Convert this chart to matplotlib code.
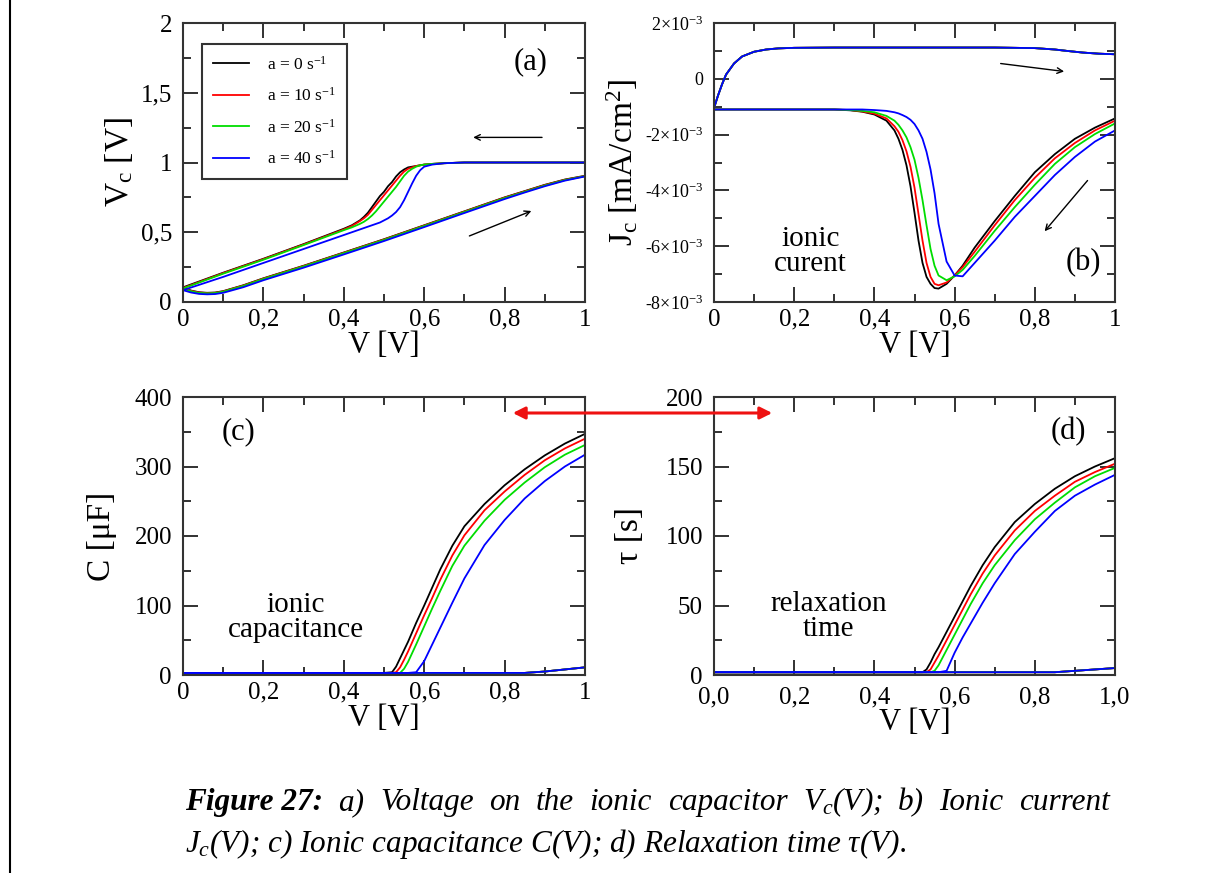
import numpy as np
import matplotlib
matplotlib.use("Agg")
import matplotlib.pyplot as plt
from matplotlib.ticker import MultipleLocator
from matplotlib.lines import Line2D

plt.rcParams['font.family'] = ['Liberation Serif', 'DejaVu Serif']
plt.rcParams['mathtext.fontset'] = 'custom'
plt.rcParams['mathtext.rm'] = 'Liberation Serif'
plt.rcParams['mathtext.it'] = 'Liberation Serif:italic'
plt.rcParams['mathtext.bf'] = 'Liberation Serif:bold'

# series: sweep rate a [1/s]
rates = [0, 10, 20, 40]
colors = ['black', 'red', '#00dd00', 'blue']

# (a) Vc(V), return branch (V going down)
va_up = [1.0, 0.9, 0.8, 0.7, 0.65, 0.62, 0.60, 0.59, 0.58, 0.57, 0.56, 0.55, 0.54, 0.53, 0.52,
         0.51, 0.50, 0.49, 0.48, 0.47, 0.46, 0.45, 0.44, 0.42, 0.40, 0.30, 0.20, 0.10, 0.0]
vc_up_0 = [1.0, 1.0, 1.0, 1.0, 0.995, 0.99, 0.985, 0.98, 0.975, 0.97, 0.965, 0.95, 0.93, 0.90, 0.86,
           0.83, 0.79, 0.76, 0.72, 0.68, 0.64, 0.61, 0.585, 0.55, 0.525, 0.415, 0.31, 0.21, 0.105]
vc_up_10 = [1.0, 1.0, 1.0, 1.0, 0.995, 0.99, 0.985, 0.98, 0.975, 0.965, 0.955, 0.935, 0.905, 0.87, 0.835,
            0.80, 0.765, 0.73, 0.695, 0.66, 0.625, 0.60, 0.58, 0.545, 0.52, 0.412, 0.307, 0.207, 0.10]
vc_up_20 = [1.0, 1.0, 1.0, 1.0, 0.995, 0.99, 0.985, 0.98, 0.97, 0.955, 0.935, 0.905, 0.865, 0.825, 0.79,
            0.755, 0.72, 0.685, 0.65, 0.62, 0.595, 0.575, 0.56, 0.535, 0.515, 0.408, 0.303, 0.203, 0.097]
vc_up_40 = [1.0, 1.0, 1.0, 1.0, 0.995, 0.985, 0.97, 0.945, 0.905, 0.85, 0.79, 0.73, 0.68, 0.645, 0.62,
            0.60, 0.585, 0.57, 0.56, 0.55, 0.54, 0.53, 0.52, 0.50, 0.48, 0.38, 0.28, 0.18, 0.085]
# (a) forward branch (V going up)
va_lo = [0.0, 0.02, 0.04, 0.06, 0.08, 0.10, 0.15, 0.2, 0.3, 0.4, 0.5, 0.6, 0.7, 0.8, 0.85, 0.9, 0.95, 1.0]
vc_lo_0 = [0.105, 0.082, 0.07, 0.066, 0.068, 0.078, 0.12, 0.17, 0.26, 0.355, 0.45, 0.55, 0.65, 0.75, 0.795, 0.84, 0.878, 0.905]
vc_lo_10 = [0.10, 0.08, 0.068, 0.064, 0.066, 0.076, 0.118, 0.168, 0.258, 0.353, 0.448, 0.548, 0.648, 0.748, 0.793, 0.838, 0.876, 0.903]
vc_lo_20 = [0.097, 0.077, 0.065, 0.062, 0.064, 0.074, 0.115, 0.165, 0.255, 0.35, 0.445, 0.545, 0.645, 0.745, 0.79, 0.835, 0.874, 0.902]
vc_lo_40 = [0.085, 0.068, 0.058, 0.055, 0.057, 0.066, 0.106, 0.156, 0.246, 0.341, 0.437, 0.537, 0.638, 0.738, 0.785, 0.83, 0.87, 0.9]

# (b) Jc(V) in 1e-3 mA/cm2, forward branch (same for all rates)
vb_fw = [0.0, 0.01, 0.02, 0.03, 0.05, 0.07, 0.10, 0.13, 0.16, 0.2, 0.3, 0.5, 0.7, 0.8, 0.85, 0.88, 0.92, 0.96, 1.0]
jc_fw = [-1.05, -0.6, -0.2, 0.15, 0.55, 0.8, 0.97, 1.05, 1.09, 1.11, 1.12, 1.12, 1.12, 1.1, 1.05, 1.0, 0.94, 0.9, 0.88]
# (b) return branch
vb_rt = [1.0, 0.95, 0.9, 0.85, 0.8, 0.75, 0.7, 0.65, 0.62, 0.6, 0.58, 0.56, 0.55, 0.54, 0.53, 0.52,
         0.51, 0.50, 0.49, 0.48, 0.47, 0.46, 0.45, 0.43, 0.40, 0.37, 0.34, 0.30, 0.2, 0.1, 0.0]
jc_rt_0 = [-1.42, -1.75, -2.15, -2.7, -3.35, -4.2, -5.1, -6.05, -6.7, -7.05, -7.35, -7.52, -7.5, -7.35, -7.1, -6.6,
           -5.8, -4.8, -3.85, -3.1, -2.55, -2.15, -1.85, -1.5, -1.28, -1.18, -1.13, -1.1, -1.1, -1.1, -1.1]
jc_rt_10 = [-1.5, -1.85, -2.3, -2.85, -3.55, -4.35, -5.25, -6.2, -6.75, -7.05, -7.3, -7.4, -7.35, -7.1, -6.6, -5.8,
            -4.85, -3.9, -3.15, -2.6, -2.2, -1.9, -1.7, -1.42, -1.25, -1.17, -1.12, -1.1, -1.1, -1.1, -1.1]
jc_rt_20 = [-1.6, -1.98, -2.45, -3.05, -3.8, -4.6, -5.45, -6.35, -6.85, -7.08, -7.22, -7.05, -6.7, -6.1, -5.25, -4.35,
            -3.55, -2.9, -2.45, -2.1, -1.85, -1.65, -1.5, -1.33, -1.2, -1.15, -1.12, -1.1, -1.1, -1.1, -1.1]
jc_rt_40 = [-1.85, -2.25, -2.8, -3.45, -4.2, -4.95, -5.8, -6.6, -7.08, -7.05, -6.55, -5.2, -4.1, -3.25, -2.62, -2.15,
            -1.85, -1.62, -1.47, -1.37, -1.3, -1.24, -1.2, -1.15, -1.12, -1.1, -1.1, -1.1, -1.1, -1.1, -1.1]

# (c) C(V) [uF] and (d) tau(V) [s], return branch
vcd = [1.0, 0.95, 0.9, 0.85, 0.8, 0.75, 0.7, 0.67, 0.64, 0.62, 0.6, 0.58, 0.56, 0.55, 0.54, 0.53, 0.52, 0.5, 0.0]
cap_0 = [347, 333, 316, 296, 273, 246, 214, 186, 152, 126, 100, 75, 48, 36, 24, 12, 4, 3, 3]
cap_10 = [340, 326, 309, 288, 264, 237, 201, 172, 137, 111, 86, 60, 34, 22, 11, 4, 3, 3, 3]
cap_20 = [331, 317, 299, 277, 252, 222, 186, 157, 121, 96, 70, 44, 19, 9, 3, 3, 3, 3, 3]
cap_40 = [317, 300, 279, 254, 223, 187, 139, 104, 68, 44, 20, 4, 3, 3, 3, 3, 3, 3, 3]
tau_0 = [156, 150, 143, 134, 123, 110, 92, 79, 64, 53, 42, 31, 20, 15, 9, 4, 2, 2, 2]
tau_10 = [152, 146, 139, 129, 118, 104, 86, 73, 58, 47, 36, 25, 14, 9, 4, 2, 2, 2, 2]
tau_20 = [149, 143, 135, 124, 112, 97, 79, 66, 51, 40, 29, 18, 7, 3, 2, 2, 2, 2, 2]
tau_40 = [144, 137, 129, 118, 103, 87, 66, 52, 37, 27, 16, 3, 2, 2, 2, 2, 2, 2, 2]
# forward branch of (c), (d)
vcd_fw = [0.0, 0.85, 0.9, 0.95, 1.0]
cap_fw = [3, 3, 5, 8, 11]
tau_fw = [2, 2, 3, 4, 5]

xticks = [0, 0.2, 0.4, 0.6, 0.8, 1.0]
xlabels = ['0', '0,2', '0,4', '0,6', '0,8', '1']
xlabels_d = ['0,0', '0,2', '0,4', '0,6', '0,8', '1,0']
yticks_a = [0, 0.5, 1, 1.5, 2]
ylabels_a = ['0', '0,5', '1', '1,5', '2']
yticks_b = [-8e-3, -6e-3, -4e-3, -2e-3, 0, 2e-3]
ylabels_b = ['-8×10$^{-3}$', '-6×10$^{-3}$', '-4×10$^{-3}$', '-2×10$^{-3}$', '0', '2×10$^{-3}$']

W, H = 1215, 873
fig = plt.figure(figsize=(W / 100, H / 100), dpi=100)
fig.patch.set_facecolor('white')

def box(l, t, r, b):
    return [l / W, 1 - b / H, (r - l) / W, (b - t) / H]

axA = fig.add_axes(box(183, 23, 585, 302))
axB = fig.add_axes(box(714, 23, 1115, 302))
axC = fig.add_axes(box(183, 397, 585, 675))
axD = fig.add_axes(box(714, 397, 1115, 675))

def style(ax, xminor, ymajor, yminor, xpad=5):
    ax.set_xlim(0, 1)
    ax.xaxis.set_minor_locator(MultipleLocator(xminor))
    ax.yaxis.set_minor_locator(MultipleLocator(yminor))
    ax.tick_params(which='both', direction='in', top=True, right=True, width=1.3, labelsize=18, color='#222222')
    ax.tick_params(which='major', length=11)
    ax.tick_params(which='minor', length=6)
    ax.tick_params(axis='x', pad=xpad)
    ax.tick_params(axis='y', pad=8)
    for s in ax.spines.values():
        s.set_linewidth(1.5)
        s.set_color('#333333')
    ax.set_xlabel('V [V]', fontsize=22, labelpad=0)

lw = 1.3
up_a = [vc_up_0, vc_up_10, vc_up_20, vc_up_40]
lo_a = [vc_lo_0, vc_lo_10, vc_lo_20, vc_lo_40]
rt_b = [jc_rt_0, jc_rt_10, jc_rt_20, jc_rt_40]
caps = [cap_0, cap_10, cap_20, cap_40]
taus = [tau_0, tau_10, tau_20, tau_40]

for i in range(4):
    axA.plot(va_up, up_a[i], color=colors[i], lw=lw, label='a = %d s$^{-1}$' % rates[i])
    axA.plot(va_lo, lo_a[i], color=colors[i], lw=lw)
    axB.plot(vb_fw, np.array(jc_fw) * 1e-3, color=colors[i], lw=lw)
    axB.plot(vb_rt, np.array(rt_b[i]) * 1e-3, color=colors[i], lw=lw)
    axC.plot(vcd, caps[i], color=colors[i], lw=lw)
    axC.plot(vcd_fw, cap_fw, color=colors[i], lw=lw)
    axD.plot(vcd, taus[i], color=colors[i], lw=lw)
    axD.plot(vcd_fw, tau_fw, color=colors[i], lw=lw)

# panel (a)
style(axA, 0.1, 0.5, 0.25)
axA.set_ylim(0, 2)
axA.set_xticks(xticks, xlabels)
axA.set_yticks(yticks_a, ylabels_a)
axA.set_ylabel('V$_\\mathrm{c}$ [V]', fontsize=24)
axA.yaxis.set_label_coords(-0.12, 0.5)
leg = axA.legend(loc='upper left', bbox_to_anchor=(0.025, 0.955), fontsize=12.5, handlelength=2.1,
                 labelspacing=0.78, borderpad=0.65, handletextpad=1.0, fancybox=False, framealpha=1,
                 edgecolor='#333333')
leg.get_frame().set_linewidth(1.5)
axA.text(0.865, 1.72, '(a)', fontsize=22, ha='center', va='center')
axA.annotate('', xy=(0.715, 1.18), xytext=(0.90, 1.18),
             arrowprops=dict(arrowstyle='->', color='black', lw=1.0))
axA.annotate('', xy=(0.873, 0.66), xytext=(0.706, 0.466),
             arrowprops=dict(arrowstyle='->', color='black', lw=1.0))

# panel (b)
style(axB, 0.1, 2e-3, 1e-3)
axB.set_ylim(-8e-3, 2e-3)
axB.set_xticks(xticks, xlabels)
axB.set_yticks(yticks_b, ylabels_b)
axB.tick_params(axis='y', labelsize=13)
axB.set_ylabel('J$_\\mathrm{c}$ [mA/cm$^2$]', fontsize=24)
axB.yaxis.set_label_coords(-0.185, 0.5)
axB.text(0.92, -6.57e-3, '(b)', fontsize=22, ha='center', va='center')
axB.text(0.24, -6.2e-3, 'ionic\ncurent', fontsize=21, ha='center', va='center', linespacing=0.95)
axB.annotate('', xy=(0.88, 0.25e-3), xytext=(0.708, 0.56e-3),
             arrowprops=dict(arrowstyle='->', color='black', lw=1.0))
axB.annotate('', xy=(0.82, -5.54e-3), xytext=(0.936, -3.57e-3),
             arrowprops=dict(arrowstyle='->', color='black', lw=1.0))

# panel (c)
style(axC, 0.1, 100, 50)
axC.set_ylim(0, 400)
axC.set_xticks(xticks, xlabels)
axC.set_yticks([0, 100, 200, 300, 400])
axC.set_ylabel('C [μF]', fontsize=24)
axC.yaxis.set_label_coords(-0.165, 0.5)
axC.text(0.137, 350, '(c)', fontsize=22, ha='center', va='center')
axC.text(0.28, 83, 'ionic\ncapacitance', fontsize=21, ha='center', va='center', linespacing=0.95)

# panel (d)
style(axD, 0.1, 50, 25, xpad=8)
axD.set_ylim(0, 200)
axD.set_xticks(xticks, xlabels_d)
axD.set_yticks([0, 50, 100, 150, 200])
axD.set_ylabel('τ [s]', fontsize=24)
axD.yaxis.set_label_coords(-0.172, 0.5)
axD.text(0.883, 175, '(d)', fontsize=22, ha='center', va='center')
axD.text(0.285, 42, 'relaxation\ntime', fontsize=21, ha='center', va='center', linespacing=0.95)

# red double arrow linking (c) and (d)
fig.add_artist(matplotlib.patches.FancyArrowPatch((510 / W, 1 - 413 / H), (775 / W, 1 - 413 / H),
               transform=fig.transFigure, arrowstyle='<|-|>', mutation_scale=18, color='#ee1111', lw=2.2))

# page border on the left
fig.add_artist(Line2D([10 / W, 10 / W], [0, 1], transform=fig.transFigure, color='black', lw=1.5))

# caption
fs = 22.5
r = fig.canvas.get_renderer()
y1 = 1 - 810 / H
y2 = 1 - 852 / H
t = fig.text(185 / W, y1, 'Figure 27:', fontsize=fs, fontweight='bold', style='italic')
x = 185 + t.get_window_extent(r).width
words = ['a)', 'Voltage', 'on', 'the', 'ionic', 'capacitor', '$V_c$(V);', 'b)', 'Ionic', 'current']
objs = [fig.text(0, y1, w, fontsize=fs, style='italic') for w in words]
widths = [o.get_window_extent(r).width for o in objs]
gap = (1110 - x - sum(widths)) / len(words)
for o, wd in zip(objs, widths):
    x += gap
    o.set_x(x / W)
    x += wd
fig.text(185 / W, y2, '$J_c$(V); c) Ionic capacitance C(V); d) Relaxation time τ(V).', fontsize=fs, style='italic')

fig.savefig('out.png', dpi=100)
